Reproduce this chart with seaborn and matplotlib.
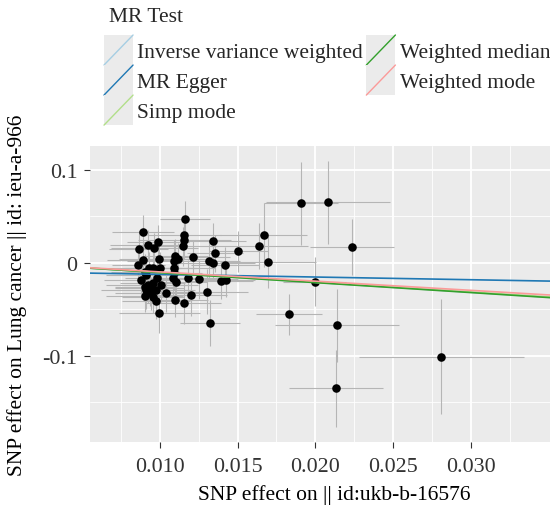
import matplotlib
matplotlib.use("Agg")
import numpy as np
import pandas as pd
import matplotlib.pyplot as plt
import seaborn as sns
from matplotlib.legend_handler import HandlerBase
from matplotlib.patches import Rectangle
from matplotlib.lines import Line2D

# SNP effects on exposure / outcome with their standard errors
beta_exp = [0.00892, 0.01160, 0.01154, 0.01157, 0.01151, 0.01341, 0.01356, 0.00926, 0.00987, 0.00962,
            0.00865, 0.00888, 0.00862, 0.00997, 0.01099, 0.01090, 0.01119, 0.01212, 0.01313, 0.01340,
            0.01418, 0.01505, 0.01640, 0.01668, 0.01694, 0.01909, 0.02080, 0.02236, 0.01995, 0.01830,
            0.02140, 0.02811, 0.02133, 0.01322, 0.00997, 0.01153, 0.01099, 0.00901, 0.00976, 0.01040,
            0.01200, 0.01306, 0.01392, 0.01423, 0.01253, 0.01178, 0.01104, 0.01082, 0.01090, 0.01093,
            0.00904, 0.00929, 0.00955, 0.01003, 0.00922, 0.00954, 0.01008, 0.00901, 0.00912, 0.00944,
            0.00954, 0.00976, 0.00933, 0.00912, 0.00881, 0.00984]
beta_out = [0.0331, 0.0471, 0.0297, 0.0245, 0.0178, 0.0234, 0.0100, 0.0194, 0.0224, 0.0154,
            0.0143, 0.0030, -0.0022, 0.0035, 0.0073, 0.0019, 0.0041, 0.0057, 0.0023, -0.0008,
            -0.0026, 0.0125, 0.0178, 0.0297, 0.0003, 0.0638, 0.0648, 0.0165, -0.0204, -0.0556,
            -0.0675, -0.1011, -0.1352, -0.0651, -0.0545, -0.0434, -0.0405, -0.0357, -0.0411, -0.0330,
            -0.0352, -0.0312, -0.0194, -0.0187, -0.0180, -0.0166, -0.0204, -0.0169, -0.0115, -0.0061,
            -0.0097, -0.0056, -0.0061, -0.0061, -0.0241, -0.0223, -0.0244, -0.0258, -0.0295, -0.0330,
            -0.0366, -0.0295, -0.0276, -0.0133, -0.0190, -0.0169]
se_exp = [0.0020, 0.0016, 0.0024, 0.0030, 0.0022, 0.0021, 0.0018, 0.0025, 0.0020, 0.0028,
          0.0019, 0.0023, 0.0017, 0.0026, 0.0021, 0.0030, 0.0018, 0.0024, 0.0020, 0.0027,
          0.0022, 0.0019, 0.0031, 0.0028, 0.0031, 0.0024, 0.0040, 0.0027, 0.0020, 0.0021,
          0.0040, 0.0053, 0.0030, 0.0019, 0.0026, 0.0024, 0.0021, 0.0025, 0.0022, 0.0029,
          0.0023, 0.0026, 0.0021, 0.0019, 0.0025, 0.0027, 0.0020, 0.0023, 0.0018, 0.0026,
          0.0022, 0.0030, 0.0018, 0.0024, 0.0027, 0.0021, 0.0024, 0.0019, 0.0029, 0.0023,
          0.0020, 0.0025, 0.0022, 0.0026, 0.0024, 0.0021]
se_out = [0.018, 0.019, 0.017, 0.020, 0.021, 0.019, 0.020, 0.016, 0.018, 0.017,
          0.020, 0.018, 0.016, 0.020, 0.018, 0.022, 0.017, 0.019, 0.021, 0.018,
          0.020, 0.022, 0.025, 0.034, 0.028, 0.045, 0.045, 0.030, 0.026, 0.022,
          0.039, 0.062, 0.041, 0.025, 0.021, 0.022, 0.018, 0.017, 0.019, 0.020,
          0.022, 0.024, 0.020, 0.018, 0.021, 0.019, 0.017, 0.020, 0.018, 0.016,
          0.019, 0.017, 0.020, 0.018, 0.019, 0.021, 0.018, 0.016, 0.020, 0.018,
          0.017, 0.022, 0.019, 0.018, 0.017, 0.020]

# MR method estimates (lines)
methods = ["Inverse variance weighted", "MR Egger", "Simp mode", "Weighted median", "Weighted mode"]
slopes = [-1.06, -0.29, -1.05, -1.07, -0.99]
intercepts = [0.0, -0.0096, 0.0, 0.0, 0.0]
colors = ["#a6cee3", "#1f78b4", "#b2df8a", "#33a02c", "#fb9a99"]

df = pd.DataFrame({"beta_exp": beta_exp, "beta_out": beta_out, "se_exp": se_exp, "se_out": se_out})

sns.set_theme(style="darkgrid", rc={
    "axes.facecolor": "#ebebeb",
    "grid.color": "white",
    "xtick.bottom": True,
    "ytick.left": True,
    "xtick.major.size": 4,
    "ytick.major.size": 4,
    "xtick.color": "#333333",
    "ytick.color": "#333333",
})
plt.rcParams["font.family"] = ["Liberation Serif", "DejaVu Serif"]

fig = plt.figure(figsize=(5.5, 5.06), dpi=100)
ax = fig.add_axes([90 / 550, 1 - 443 / 506, 460 / 550, 296 / 506])

# error bars first, then points, then method lines (ggplot order)
ax.errorbar(df["beta_exp"], df["beta_out"], xerr=df["se_exp"], fmt="none",
            ecolor="#b5b5b5", elinewidth=0.8, capsize=0, zorder=2)
ax.errorbar(df["beta_exp"], df["beta_out"], yerr=df["se_out"], fmt="none",
            ecolor="#b5b5b5", elinewidth=0.8, capsize=0, zorder=2)
sns.scatterplot(data=df, x="beta_exp", y="beta_out", color="black", s=38,
                linewidth=0, ax=ax, zorder=3)

for m, b, a, c in zip(methods, slopes, intercepts, colors):
    ax.axline((0, a), slope=b, color=c, lw=1.2, zorder=4)

ax.set_xlim(0.0055, 0.0351)
ax.set_ylim(-0.1928, 0.1255)
ax.set_xticks([0.010, 0.015, 0.020, 0.025, 0.030])
ax.set_xticklabels(["0.010", "0.015", "0.020", "0.025", "0.030"])
ax.set_yticks([-0.1, 0, 0.1])
ax.set_yticklabels(["-0.1", "0", "0.1"])
ax.set_xticks([0.0075, 0.0125, 0.0175, 0.0225, 0.0275, 0.0325], minor=True)
ax.set_yticks([-0.15, -0.05, 0.05], minor=True)
ax.tick_params(axis="both", which="major", labelsize=15.8, width=0.8)
ax.tick_params(axis="x", which="major", pad=7)
ax.tick_params(axis="y", which="major", pad=5)
ax.tick_params(axis="both", which="minor", length=0)
ax.grid(which="major", color="white", lw=1.3)
ax.grid(which="minor", color="white", lw=0.6)
for s in ax.spines.values():
    s.set_visible(False)

ax.set_xlabel("SNP effect on || id:ukb-b-16576", fontsize=15.5, color="black")
ax.set_ylabel("SNP effect on Lung cancer || id: ieu-a-966", fontsize=15.5, color="black")
ax.xaxis.set_label_coords(0.53, -0.142)
ax.yaxis.set_label_coords(-0.1375, 0.5)


class DiagHandler(HandlerBase):
    def create_artists(self, legend, orig_handle, xdescent, ydescent, width, height, fontsize, trans):
        bg = Rectangle((-xdescent, -ydescent), width, height, facecolor="#ebebeb",
                       edgecolor="none", transform=trans)
        ln = Line2D([-xdescent, -xdescent + width], [-ydescent, -ydescent + height],
                    color=orig_handle.get_color(), lw=1.0, transform=trans)
        return [bg, ln]


handles = [Line2D([], [], color=c) for c in colors]
fig.text(109 / 550, 1 - 17 / 506, "MR Test", fontsize=15.5, ha="left", va="center")
fig.legend(handles, methods, loc="upper left", bbox_to_anchor=(104 / 550, 1 - 36 / 506),
           ncol=2, frameon=False, handler_map={Line2D: DiagHandler()},
           handlelength=1.35, handleheight=1.77, labelspacing=0, handletextpad=0.2,
           columnspacing=0.15, borderpad=0, borderaxespad=0, fontsize=15.5)

fig.savefig("out.png", dpi=100)
